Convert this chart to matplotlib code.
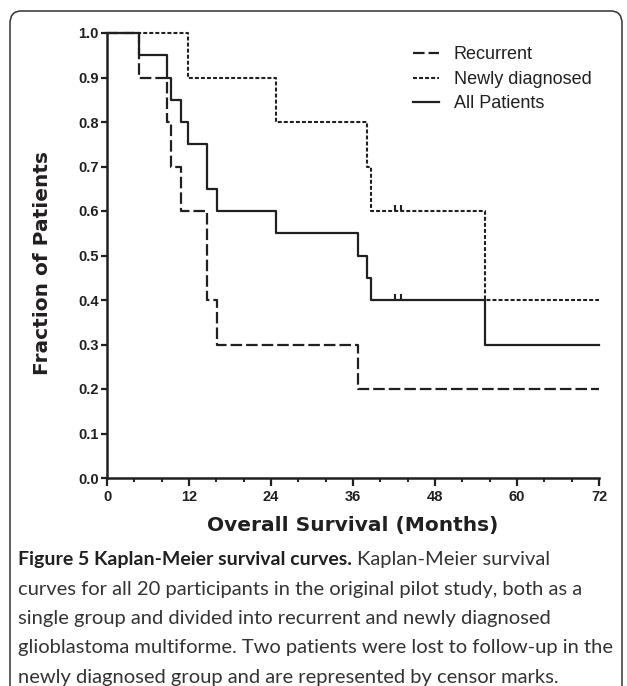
import matplotlib
matplotlib.use("Agg")
import matplotlib.pyplot as plt
from matplotlib.patches import FancyBboxPatch
import numpy as np

# ---- data ----
rec_t = [0, 4.7, 8.8, 9.3, 10.8, 14.7, 16.1, 36.7, 72]
rec_s = [1.0, 0.9, 0.8, 0.7, 0.6, 0.4, 0.3, 0.2, 0.2]
new_t = [0, 11.8, 24.8, 38.1, 38.6, 55.3, 72]
new_s = [1.0, 0.9, 0.8, 0.7, 0.6, 0.4, 0.4]
all_t = [0, 4.7, 8.8, 9.3, 10.8, 11.8, 14.7, 16.1, 24.8, 36.7, 38.1, 38.6, 55.3, 72]
all_s = [1.0, 0.95, 0.9, 0.85, 0.8, 0.75, 0.65, 0.6, 0.55, 0.5, 0.45, 0.4, 0.3, 0.3]
censor_t = [42.2, 43.0]
censor_new = [0.6, 0.6]
censor_all = [0.4, 0.4]
labels = ["Recurrent", "Newly diagnosed", "All Patients"]
xticks = [0, 12, 24, 36, 48, 60, 72]
yticks = [0.0, 0.1, 0.2, 0.3, 0.4, 0.5, 0.6, 0.7, 0.8, 0.9, 1.0]

W, H = 627, 686
fig = plt.figure(figsize=(W / 100, H / 100), dpi=100)
fig.patch.set_facecolor("white")

# outer rounded frame
frame = FancyBboxPatch((10 / W, -0.05), (622 - 10) / W, 1.05 - 11 / H,
                       boxstyle="round,pad=0,rounding_size=0.018",
                       transform=fig.transFigure, fill=False,
                       edgecolor="#333333", linewidth=1.1)
fig.patches.append(frame)

ax = fig.add_axes([107 / W, 1 - 478 / H, (599 - 107) / W, (478 - 33) / H])
col = "#231f20"
lw = 1.6
ax.step(new_t, new_s, where="post", color=col, lw=1.5,
        linestyle=(0, (1.9, 1.0)), label=labels[1], clip_on=False)
ax.step(rec_t, rec_s, where="post", color=col, lw=lw,
        linestyle=(0, (5.2, 1.8)), label=labels[0], clip_on=False)
ax.step(all_t, all_s, where="post", color=col, lw=lw,
        linestyle="-", label=labels[2], clip_on=False)

tickmark = [(0, 0), (0, 1)]
ax.plot(censor_t, censor_new, linestyle="none", marker=tickmark,
        markersize=8, markeredgewidth=1.5, color=col)
ax.plot(censor_t, censor_all, linestyle="none", marker=tickmark,
        markersize=8, markeredgewidth=1.5, color=col)

ax.set_xlim(0, 72)
ax.set_ylim(0, 1.0)
ax.set_xticks(xticks)
ax.set_xticks(np.arange(0, 73, 4), minor=True)
ax.set_yticks(yticks)
ax.set_yticklabels([f"{v:.1f}" for v in yticks])
for s in ["top", "right"]:
    ax.spines[s].set_visible(False)
for s in ["left", "bottom"]:
    ax.spines[s].set_linewidth(1.8)
    ax.spines[s].set_color(col)
ax.tick_params(axis="y", which="major", length=4, width=1.6, color=col,
               pad=2)
ax.tick_params(axis="x", which="major", length=5.5, width=1.6, color=col,
               pad=3)
ax.tick_params(axis="x", which="minor", length=3, width=1.4, color=col)
for lab in ax.get_xticklabels() + ax.get_yticklabels():
    lab.set_fontfamily("Liberation Sans")
    lab.set_fontweight("bold")
    lab.set_fontsize(10.5)
    lab.set_color(col)

# legend
h, l = ax.get_legend_handles_labels()
order = [1, 0, 2]
leg = ax.legend([h[i] for i in order], [l[i] for i in order],
                loc="upper left", bbox_to_anchor=(397 / W, 1 - 30 / H),
                bbox_transform=fig.transFigure, frameon=False,
                handlelength=1.4, handletextpad=0.85, labelspacing=0.42,
                prop={"family": "Liberation Sans", "size": 13})
for t in leg.get_texts():
    t.set_color(col)

# axis labels (heavy)
lab_font = dict(family="DejaVu Sans", weight="heavy", color=col)
fig.text(353 / W, 1 - 526 / H, "Overall Survival (Months)",
         ha="center", va="center", fontsize=14.5, **lab_font)
fig.text(43 / W, 1 - 263 / H, "Fraction of Patients", rotation=90,
         ha="center", va="center", fontsize=14.5, **lab_font)

# caption
cap_family = ["Lato", "DejaVu Sans"]
cap_size = 14.5
cap_lines = [
    "curves for all 20 participants in the original pilot study, both as a",
    "single group and divided into recurrent and newly diagnosed",
    "glioblastoma multiforme. Two patients were lost to follow-up in the",
    "newly diagnosed group and are represented by censor marks.",
]
y0 = 560
dy = 29.3
x0 = 18 / W
b = fig.text(x0, 1 - y0 / H, "Figure 5 Kaplan-Meier survival curves.",
             family=cap_family, weight="bold", fontsize=14.0,
             color=col, va="center", ha="left")
fig.canvas.draw()
r = fig.canvas.get_renderer()
bb = b.get_window_extent(r)
fig.text((bb.x1 + 5) / W, 1 - y0 / H, "Kaplan-Meier survival",
         family=cap_family, fontsize=cap_size, color="#333333",
         va="center", ha="left")
for i, line in enumerate(cap_lines):
    fig.text(x0, 1 - (y0 + dy * (i + 1)) / H, line, family=cap_family,
             fontsize=cap_size, color="#333333", va="center", ha="left")

fig.savefig("out.png", dpi=100, facecolor="white")
